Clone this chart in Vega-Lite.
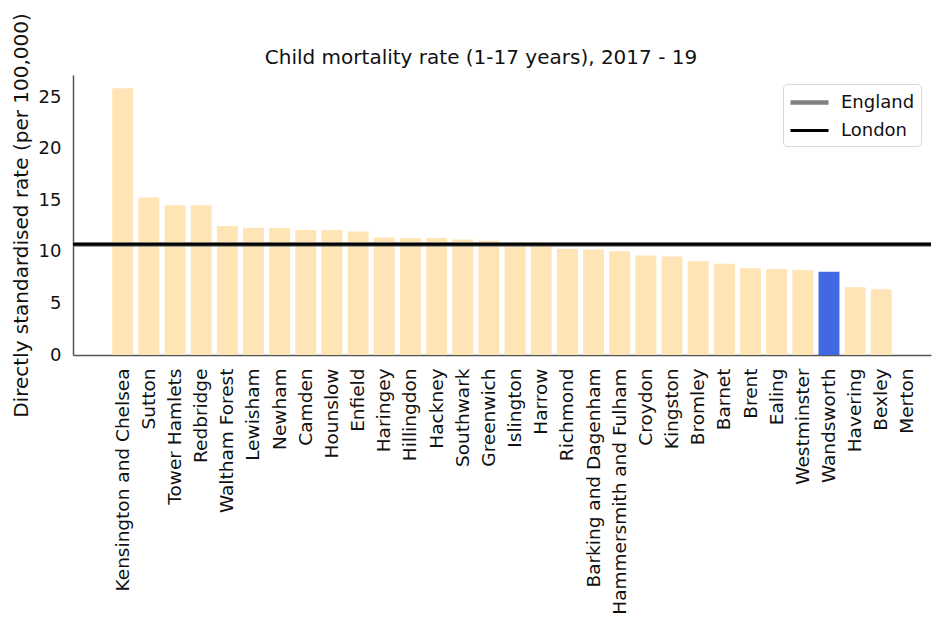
{
  "$schema": "https://vega.github.io/schema/vega-lite/v6.json",
  "width": 858,
  "height": 280,
  "autosize": {"type": "none"},
  "padding": {"left": 73, "top": 75, "right": 6, "bottom": 265},
  "background": "white",
  "config": {
    "font": "DejaVu Sans",
    "view": {"stroke": null},
    "axis": {"grid": false, "ticks": false, "domainColor": "#555555", "domainWidth": 1.5, "labelColor": "#111111", "labelFont": "DejaVu Sans", "titleFont": "DejaVu Sans"}
  },
  "title": {
    "text": "Child mortality rate (1-17 years), 2017 - 19",
    "fontSize": 20,
    "fontWeight": "normal",
    "font": "DejaVu Sans",
    "color": "#111111",
    "anchor": "middle",
    "frame": "group",
    "dx": -21,
    "dy": 80,
    "baseline": "alphabetic",
    "offset": 9
  },
  "datasets": {
    "boroughs": [
      {"borough": "Kensington and Chelsea", "rate": 25.87, "focus": "Other"},
      {"borough": "Sutton", "rate": 15.28, "focus": "Other"},
      {"borough": "Tower Hamlets", "rate": 14.53, "focus": "Other"},
      {"borough": "Redbridge", "rate": 14.53, "focus": "Other"},
      {"borough": "Waltham Forest", "rate": 12.5, "focus": "Other"},
      {"borough": "Lewisham", "rate": 12.34, "focus": "Other"},
      {"borough": "Newham", "rate": 12.31, "focus": "Other"},
      {"borough": "Camden", "rate": 12.11, "focus": "Other"},
      {"borough": "Hounslow", "rate": 12.11, "focus": "Other"},
      {"borough": "Enfield", "rate": 11.98, "focus": "Other"},
      {"borough": "Haringey", "rate": 11.4, "focus": "Other"},
      {"borough": "Hillingdon", "rate": 11.34, "focus": "Other"},
      {"borough": "Hackney", "rate": 11.34, "focus": "Other"},
      {"borough": "Southwark", "rate": 11.21, "focus": "Other"},
      {"borough": "Greenwich", "rate": 11.08, "focus": "Other"},
      {"borough": "Islington", "rate": 10.68, "focus": "Other"},
      {"borough": "Harrow", "rate": 10.62, "focus": "Other"},
      {"borough": "Richmond", "rate": 10.3, "focus": "Other"},
      {"borough": "Barking and Dagenham", "rate": 10.24, "focus": "Other"},
      {"borough": "Hammersmith and Fulham", "rate": 10.05, "focus": "Other"},
      {"borough": "Croydon", "rate": 9.66, "focus": "Other"},
      {"borough": "Kingston", "rate": 9.56, "focus": "Other"},
      {"borough": "Bromley", "rate": 9.09, "focus": "Other"},
      {"borough": "Barnet", "rate": 8.85, "focus": "Other"},
      {"borough": "Brent", "rate": 8.4, "focus": "Other"},
      {"borough": "Ealing", "rate": 8.33, "focus": "Other"},
      {"borough": "Westminster", "rate": 8.24, "focus": "Other"},
      {"borough": "Wandsworth", "rate": 8.08, "focus": "Wandsworth"},
      {"borough": "Havering", "rate": 6.56, "focus": "Other"},
      {"borough": "Bexley", "rate": 6.37, "focus": "Other"},
      {"borough": "Merton", "rate": null, "focus": "Other"}
    ],
    "refs": [
      {"name": "England", "rate": 10.72},
      {"name": "London", "rate": 10.73}
    ]
  },
  "layer": [
    {
      "data": {"name": "boroughs"},
      "mark": {"type": "bar"},
      "encoding": {
        "x": {
          "field": "borough",
          "type": "nominal",
          "sort": null,
          "scale": {
            "domain": ["Kensington and Chelsea", "Sutton", "Tower Hamlets", "Redbridge", "Waltham Forest", "Lewisham", "Newham", "Camden", "Hounslow", "Enfield", "Haringey", "Hillingdon", "Hackney", "Southwark", "Greenwich", "Islington", "Harrow", "Richmond", "Barking and Dagenham", "Hammersmith and Fulham", "Croydon", "Kingston", "Bromley", "Barnet", "Brent", "Ealing", "Westminster", "Wandsworth", "Havering", "Bexley", "Merton"],
            "paddingInner": 0.2,
            "paddingOuter": 1.0,
            "align": 0.75
          },
          "axis": {"title": null, "labelAngle": -90, "labelAlign": "right", "labelBaseline": "middle", "labelFontSize": 18.5, "labelPadding": 13, "labelLimit": 400}
        },
        "y": {
          "field": "rate",
          "type": "quantitative",
          "scale": {"domain": [0, 27.15], "nice": false, "zero": true},
          "axis": {"values": [0, 5, 10, 15, 20, 25], "title": "Directly standardised rate (per 100,000)", "titleFontSize": 20, "titleFontWeight": "normal", "titleColor": "#111111", "titlePadding": 7, "labelFontSize": 18, "labelPadding": 12}
        },
        "fill": {
          "field": "focus",
          "type": "nominal",
          "scale": {"domain": ["Other", "Wandsworth"], "range": ["#FFE4B5", "#4169E1"]},
          "legend": null
        }
      }
    },
    {
      "data": {"name": "refs"},
      "mark": {"type": "rule"},
      "encoding": {
        "y": {"field": "rate", "type": "quantitative"},
        "stroke": {
          "field": "name",
          "type": "nominal",
          "scale": {"domain": ["England", "London"], "range": ["#808080", "#000000"]},
          "legend": {
            "title": null,
            "orient": "none",
            "legendX": 710,
            "legendY": 9,
            "labelFontSize": 18,
            "labelFont": "DejaVu Sans",
            "labelColor": "#111111",
            "symbolType": "M-1.9,0L1.9,0",
            "symbolSize": 400,
            "symbolStrokeWidth": 2.5,
            "symbolOffset": 8,
            "labelOffset": 19,
            "padding": 6,
            "rowPadding": 7,
            "strokeColor": "#d9d9d9",
            "fillColor": "white",
            "cornerRadius": 4
          }
        },
        "strokeWidth": {
          "field": "name",
          "type": "nominal",
          "scale": {"domain": ["England", "London"], "range": [4.5, 3]},
          "legend": null
        }
      }
    }
  ]
}
